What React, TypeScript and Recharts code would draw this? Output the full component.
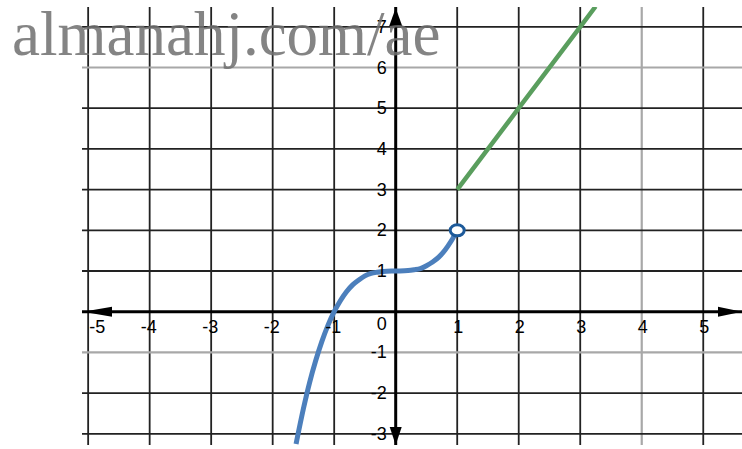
import {
  LineChart,
  Line,
  XAxis,
  YAxis,
  ReferenceLine,
  ReferenceDot,
} from "recharts";

// blue piece (open end at x = 1)
const blueX = [-1.62, -1.5, -1.4, -1.3, -1.2, -1.1, -1.0, -0.9, -0.8, -0.7, -0.6, -0.5, -0.4, -0.3, -0.2, 0, 0.2, 0.3, 0.4, 0.5, 0.6, 0.7, 0.8, 0.9, 1.0];
const blueY = [-3.25, -2.38, -1.74, -1.2, -0.73, -0.33, 0, 0.27, 0.49, 0.66, 0.78, 0.88, 0.94, 0.97, 0.99, 1, 1.01, 1.03, 1.06, 1.13, 1.22, 1.34, 1.51, 1.73, 2];

// green piece (starts at x = 1)
const greenX = [1, 2, 3, 3.25];
const greenY = [3, 5, 7, 7.5];

const gridX = [-5, -4, -3, -2, -1, 1, 2, 3, 4, 5];
const gridY = [-3, -2, -1, 1, 2, 3, 4, 5, 6, 7];
const lightX = [4];
const lightY = [-1, 6];

const X_MIN = -5.1;
const X_MAX = 5.63;
const Y_MIN = -3.275;
const Y_MAX = 7.487;

const blueData = blueX.map((x, i) => ({ x, y: blueY[i] }));
const greenData = greenX.map((x, i) => ({ x, y: greenY[i] }));

const FONT = "'Liberation Sans', Arial, sans-serif";

export default function App() {
  return (
    <div style={{ position: "absolute", left: 0, top: 0, width: 742, height: 449, background: "#fff" }}>
      <LineChart width={742} height={449} margin={{ top: 7, right: 0, bottom: 4, left: 82 }}>
        <XAxis type="number" dataKey="x" domain={[X_MIN, X_MAX]} allowDataOverflow hide />
        <YAxis type="number" dataKey="y" domain={[Y_MIN, Y_MAX]} allowDataOverflow hide />

        {gridX.map((v) => (
          <ReferenceLine
            key={`gx${v}`}
            x={v}
            stroke={lightX.includes(v) ? "#a8a8a8" : "#222"}
            strokeWidth={lightX.includes(v) ? 2.2 : 1.8}
          />
        ))}
        {gridY.map((v) => (
          <ReferenceLine
            key={`gy${v}`}
            y={v}
            stroke={lightY.includes(v) ? "#a8a8a8" : "#222"}
            strokeWidth={lightY.includes(v) ? 2.2 : 1.8}
          />
        ))}

        <ReferenceLine x={0} stroke="#000" strokeWidth={3} />
        <ReferenceLine y={0} stroke="#000" strokeWidth={3} />

        {/* axis arrows */}
        <ReferenceDot x={X_MIN} y={0} r={1} ifOverflow="visible"
          shape={(p: any) => <polygon points={`${p.cx + 1},${p.cy} ${p.cx + 30},${p.cy - 5} ${p.cx + 30},${p.cy + 5}`} fill="#000" />} />
        <ReferenceDot x={X_MAX} y={0} r={1} ifOverflow="visible"
          shape={(p: any) => <polygon points={`${p.cx},${p.cy} ${p.cx - 24},${p.cy - 5} ${p.cx - 24},${p.cy + 5}`} fill="#000" />} />
        <ReferenceDot x={0} y={Y_MAX} r={1} ifOverflow="visible"
          shape={(p: any) => <polygon points={`${p.cx},${p.cy + 1} ${p.cx - 6.5},${p.cy + 19} ${p.cx + 6.5},${p.cy + 19}`} fill="#000" />} />
        <ReferenceDot x={0} y={Y_MIN} r={1} ifOverflow="visible"
          shape={(p: any) => <polygon points={`${p.cx},${p.cy} ${p.cx - 6},${p.cy - 18} ${p.cx + 6},${p.cy - 18}`} fill="#000" />} />

        {/* x tick labels */}
        {gridX.map((v) => (
          <ReferenceDot key={`lx${v}`} x={v} y={0} r={1} ifOverflow="visible"
            shape={(p: any) => (
              <text
                x={v === -5 ? p.cx + 1 : v < 0 ? p.cx + 7 : p.cx + 1}
                y={p.cy + 21}
                textAnchor={v === -5 ? "start" : v < 0 ? "end" : "middle"}
                fontFamily={FONT}
                fontSize={18}
                fill="#000"
              >
                {v}
              </text>
            )} />
        ))}
        {/* y tick labels */}
        {gridY.map((v) => (
          <ReferenceDot key={`ly${v}`} x={0} y={v} r={1} ifOverflow="visible"
            shape={(p: any) => (
              <text x={p.cx - 9} y={p.cy + 6} textAnchor="end" fontFamily={FONT} fontSize={18} fill="#000">
                {v}
              </text>
            )} />
        ))}
        <ReferenceDot x={0} y={0} r={1} ifOverflow="visible"
          shape={(p: any) => (
            <text x={p.cx - 9} y={p.cy + 18} textAnchor="end" fontFamily={FONT} fontSize={18} fill="#000">
              0
            </text>
          )} />

        <Line data={blueData} dataKey="y" type="monotone" stroke="#4c7fbc" strokeWidth={5} dot={false} isAnimationActive={false} />
        <Line data={greenData} dataKey="y" type="linear" stroke="#5a9e5e" strokeWidth={4.5} dot={false} isAnimationActive={false} />

        {/* open circle at the end of the blue piece */}
        <ReferenceDot x={blueX[blueX.length - 1]} y={blueY[blueY.length - 1]} r={1} ifOverflow="visible"
          shape={(p: any) => <ellipse cx={p.cx} cy={p.cy} rx={7} ry={5.5} fill="#fff" stroke="#1d5a9a" strokeWidth={3} />} />
      </LineChart>
      <svg width={742} height={449} style={{ position: "absolute", left: 0, top: 0, pointerEvents: "none" }}>
        <text x={12} y={55} fontFamily="'Liberation Serif', 'Times New Roman', serif" fontSize={63} fill="#6f6f6f" fillOpacity={0.85}>
          almanahj.com/ae
        </text>
      </svg>
    </div>
  );
}
